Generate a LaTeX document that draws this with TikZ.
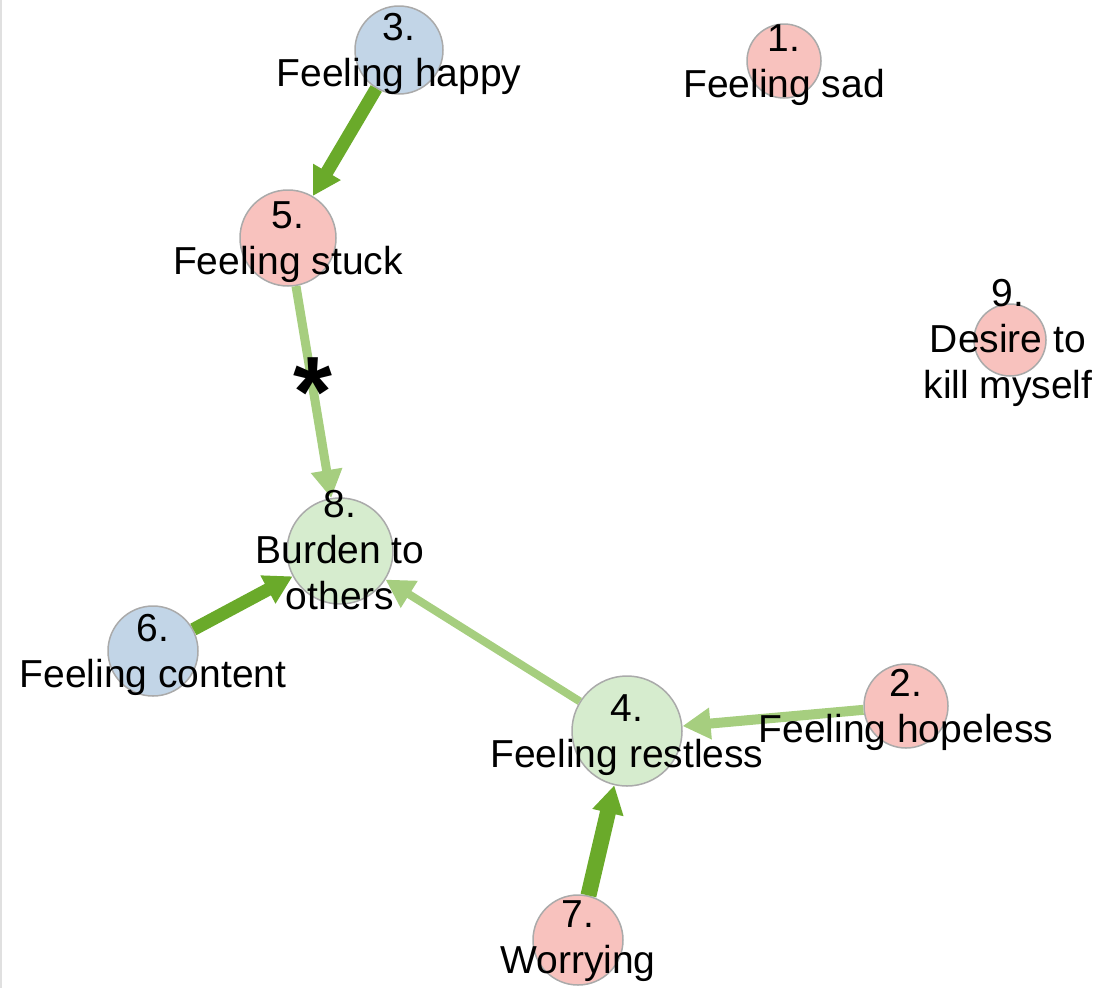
\documentclass[tikz,border=0pt]{standalone}
\usepackage{fontspec}
\setmainfont{Liberation Sans}
\usetikzlibrary{arrows.meta}
\definecolor{pinkfill}{RGB}{248,194,190}
\definecolor{bluefill}{RGB}{194,213,231}
\definecolor{greenfill}{RGB}{214,236,206}
\definecolor{strong}{RGB}{106,170,42}
\definecolor{weak}{RGB}{166,206,127}
\definecolor{rim}{RGB}{170,170,170}
\begin{document}
\begin{tikzpicture}[x=1pt,y=-1pt,
  sym/.style={circle, draw=rim, line width=1.5pt, inner sep=0pt, minimum size=#1},
  neg/.style={sym=#1, fill=pinkfill},
  pos/.style={sym=#1, fill=bluefill},
  mid/.style={sym=#1, fill=greenfill},
  lbl/.style={anchor=north, align=center, inner sep=0pt, font=\fontsize{39}{46}\selectfont},
  tie/.style={line width=#1, -{Triangle[length=28pt,width=30pt]}},
  strongtie/.style={tie=#1, draw=strong, fill=strong},
  weaktie/.style={tie=#1, draw=weak, fill=weak}
]
\useasboundingbox (0,0) rectangle (1099,988);
\draw[black!12, line width=2pt] (1,0) -- (1,988);

% symptom circles
\node[neg=74pt]  (n1) at (784,61)  {};
\node[neg=84pt]  (n2) at (906,706) {};
\node[pos=88pt]  (n3) at (399,50)  {};
\node[mid=110pt] (n4) at (627,731) {};
\node[neg=96pt]  (n5) at (288,238) {};
\node[pos=90pt]  (n6) at (153,651) {};
\node[neg=90pt]  (n7) at (578,940) {};
\node[mid=106pt] (n8) at (340,551) {};
\node[neg=72pt]  (n9) at (1010,340) {};

% directed edges
\draw[strongtie=13pt] (n3) -- (n5);
\draw[weaktie=9pt]    (n5) -- (n8);
\draw[strongtie=13pt] (n6) -- (n8);
\draw[weaktie=8pt]    (n4) -- (n8);
\draw[weaktie=10pt]   (n2) -- (n4);
\draw[strongtie=16pt] (n7) -- (n4);

\node[anchor=base, inner sep=0pt, font=\fontsize{100}{100}\selectfont\bfseries] (star) at (313,426) {*};

% labels
\node[lbl] (l1) at (784,24)  {1.\\Feeling sad};
\node[lbl] (l2) at (906,669) {2.\\Feeling hopeless};
\node[lbl] (l3) at (399,13)  {3.\\Feeling happy};
\node[lbl] (l4) at (627,694) {4.\\Feeling restless};
\node[lbl] (l5) at (288,201) {5.\\Feeling stuck};
\node[lbl] (l6) at (153,614) {6.\\Feeling content};
\node[lbl] (l7) at (578,900) {7.\\Worrying};
\node[lbl] (l8) at (340,490) {8.\\Burden to\\others};
\node[lbl] (l9) at (1008,279) {9.\\Desire to\\kill myself};
\end{tikzpicture}
\end{document}
